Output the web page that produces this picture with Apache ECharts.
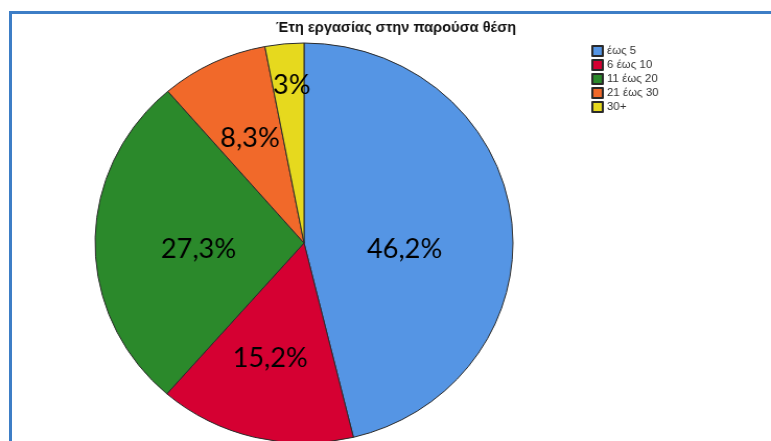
<!DOCTYPE html>
<html>
<head>
<meta charset="utf-8">
<script src="https://cdn.jsdelivr.net/npm/echarts@6/dist/echarts.min.js"></script>
<style>
  html, body { margin: 0; padding: 0; background: #ffffff; overflow: hidden; }
  #wrap { position: relative; width: 771px; height: 441px; overflow: hidden; background: #fff; }
  #frame { position: absolute; left: 9px; top: 11px; right: -10px; bottom: -10px;
           border-top: 3px solid #3d7ec6; border-left: 3px solid #3d7ec6; }
  /* the chart is drawn slightly narrow and widened horizontally */
  #chart { position: absolute; left: 0; top: 0; width: 738px; height: 441px;
           transform: scaleX(1.0447); transform-origin: 0 0; }
</style>
</head>
<body>
<div id="wrap">
  <div id="frame"></div>
  <div id="chart"></div>
</div>
<script>
// Years in current position (share of respondents, %)
const categories = ['έως 5', '6 έως 10', '11 έως 20', '21 έως 30', '30+'];
const shares = [46.2, 15.2, 27.3, 8.3, 3];
const sliceColors = ['#5595e4', '#d50032', '#2b892b', '#f1692a', '#e6d91e'];
// nudges for the percentage labels inside each slice
const labelDx = [-6, -8, 2, -7, -2];
const labelDy = [19, 16, 7, -12, -55];

const chart = echarts.init(document.getElementById('chart'), null, { renderer: 'canvas' });

const fmt = v => String(v).replace('.', ',') + '%';

chart.setOption({
  backgroundColor: 'transparent',
  animation: false,
  title: {
    text: 'Έτη εργασίας στην παρούσα θέση',
    left: 264,
    top: 21,
    padding: 0,
    textStyle: { fontFamily: 'Liberation Sans, Arial, sans-serif', fontSize: 14, fontWeight: 'bold', color: '#111' }
  },
  legend: {
    orient: 'vertical',
    left: 566,
    top: 45,
    padding: 0,
    itemWidth: 10,
    itemHeight: 10,
    itemGap: 2,
    icon: 'rect',
    data: categories,
    textStyle: { fontFamily: 'Liberation Sans, Arial, sans-serif', fontSize: 11, lineHeight: 12, color: '#333', padding: [0, 0, 0, -1] }
  },
  series: [{
    type: 'pie',
    center: [291, 243],
    radius: [0, 200],
    startAngle: 90,
    clockwise: true,
    avoidLabelOverlap: false,
    emphasis: { disabled: true },
    itemStyle: { borderColor: '#2a2a2a', borderWidth: 1 },
    label: {
      show: true,
      position: 'inside',
      formatter: p => fmt(p.value),
      fontFamily: 'Lato, Carlito, sans-serif',
      fontSize: 26,
      color: '#000'
    },
    labelLine: { show: false },
    labelLayout: p => ({ dx: labelDx[p.dataIndex], dy: labelDy[p.dataIndex] }),
    data: categories.map((c, i) => ({ name: c, value: shares[i], itemStyle: { color: sliceColors[i] } }))
  }]
});
</script>
</body>
</html>
